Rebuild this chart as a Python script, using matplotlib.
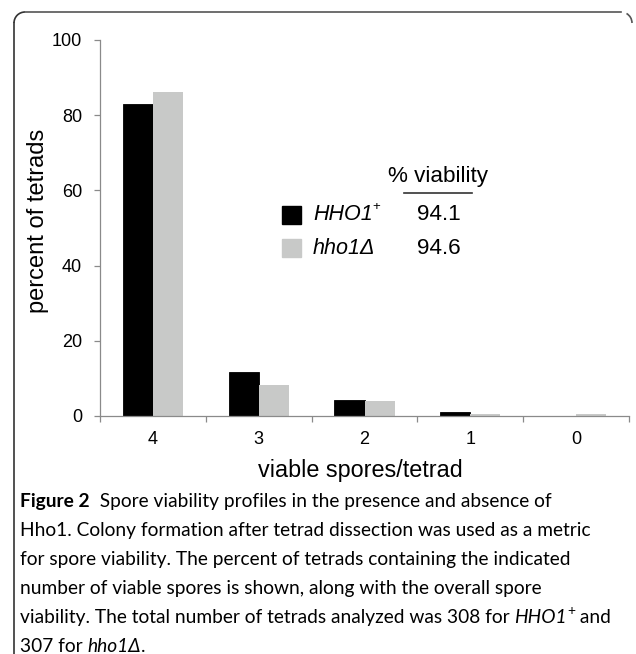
import matplotlib
matplotlib.use('Agg')
import numpy as np
import matplotlib.pyplot as plt
from matplotlib.patches import Arc

categories = ['4', '3', '2', '1', '0']
hho1_plus = [83.0, 11.6, 4.3, 1.0, 0.0]
hho1_delta = [86.2, 8.3, 4.0, 0.5, 0.5]
viability = ['94.1', '94.6']

black = '#000000'
grey = '#c8c9c8'
spine = '#8a8a8a'

plt.rcParams['font.family'] = ['Liberation Sans', 'DejaVu Sans']

W, H = 636, 654
fig = plt.figure(figsize=(W / 100, H / 100), dpi=100)
renderer = fig.canvas.get_renderer()

ax = fig.add_axes([100 / W, 1 - 416 / H, 529 / W, 376 / H])
x = np.arange(len(categories))
w = 0.284
ax.bar(x - w / 2, hho1_plus, w, color=black, edgecolor=black, lw=0.6)
ax.bar(x + w / 2, hho1_delta, w, color=grey, lw=0)

ax.set_xlim(-0.5, len(categories) - 0.5)
ax.set_ylim(0, 100)
ax.set_yticks([0, 20, 40, 60, 80, 100])
ax.set_xticks(x)
ax.set_xticklabels(categories)
ax.set_xticks(np.arange(-0.5, len(categories)), minor=True)
ax.tick_params(axis='x', which='major', length=0, pad=11, labelsize=13)
ax.tick_params(axis='x', which='minor', length=4.5, width=0.9, color=spine,
               direction='out')
ax.tick_params(axis='y', length=4, width=0.9, color=spine, pad=9,
               labelsize=13)
for s in ['top', 'right']:
    ax.spines[s].set_visible(False)
for s in ['left', 'bottom']:
    ax.spines[s].set_color(spine)
    ax.spines[s].set_linewidth(0.9)

ax.set_ylabel('percent of tetrads', fontsize=17, va='center')
ax.yaxis.set_label_coords((38.5 - 100) / 529, (416 - 221) / 376)
ax.set_xlabel('viable spores/tetrad', fontsize=16.8, va='center')
ax.xaxis.set_label_coords((360 - 100) / 529, (416 - 471) / 376)

# overlay in pixel coordinates: frame, legend, caption
ov = fig.add_axes([0, 0, 1, 1])
ov.set_xlim(0, W)
ov.set_ylim(H, 0)
ov.axis('off')
r = 11
ov.plot([14, 14], [H, 12 + r], color='#333333', lw=1.2)
ov.plot([14 + r, 632 - r], [12, 12], color='#555555', lw=1.2)
ov.add_patch(Arc((14 + r, 12 + r), 2 * r, 2 * r, theta1=180, theta2=270,
                 color='#333333', lw=1.2))
ov.add_patch(Arc((632 - r, 12 + r), 2 * r, 2 * r, theta1=300, theta2=360,
                 color='#555555', lw=1.2))


def run(x0, y, parts, **kw):
    # draw text pieces one after another on a line
    xx = x0
    for txt, extra in parts:
        opts = dict(kw)
        opts.update(extra)
        dy = opts.pop('dy', 0)
        t = ov.text(xx, y + dy, txt, va='center', ha='left', **opts)
        xx += t.get_window_extent(renderer).width
    return xx


lfs = 16.2
ov.text(388, 182, '% viability', fontsize=lfs, ha='left', va='baseline')
ov.plot([404, 472], [193, 193], color='#333333', lw=1.2)
ov.add_patch(plt.Rectangle((282, 206), 19, 18, color=black))
ov.add_patch(plt.Rectangle((282, 239), 19, 18, color=grey))
run(313, 215, [('HHO1', {'style': 'italic'}),
               ('+', {'fontsize': 9.5, 'dy': -8})], fontsize=15.5)
ov.text(313, 248, 'hho1\u0394', fontsize=15.5, va='center', ha='left',
        style='italic')
ov.text(417, 215, viability[0], fontsize=lfs, va='center', ha='left')
ov.text(417, 248, viability[1], fontsize=lfs, va='center', ha='left')

cap = ['Hho1. Colony formation after tetrad dissection was used as a metric',
       'for spore viability. The percent of tetrads containing the indicated',
       'number of viable spores is shown, along with the overall spore']
cfont = ['Lato', 'DejaVu Sans']
fs = 13.8
y0 = 502
dy = 28.8
run(20, y0, [('Figure 2', {'fontweight': 'bold'}),
             ('  Spore viability profiles in the presence and absence of', {})],
    fontsize=fs, family=cfont)
for i, line in enumerate(cap):
    ov.text(20, y0 + dy * (i + 1), line, fontsize=fs, va='center',
            family=cfont)
run(20, y0 + dy * 4,
    [('viability. The total number of tetrads analyzed was 308 for ', {}),
     ('HHO1', {'style': 'italic'}),
     ('+', {'fontsize': 10, 'dy': -6}),
     (' and', {})], fontsize=fs, family=cfont)
run(20, y0 + dy * 5,
    [('307 for ', {}), ('hho1\u0394', {'style': 'italic'}), ('.', {})],
    fontsize=fs, family=cfont)

fig.savefig('out.png', dpi=100)
